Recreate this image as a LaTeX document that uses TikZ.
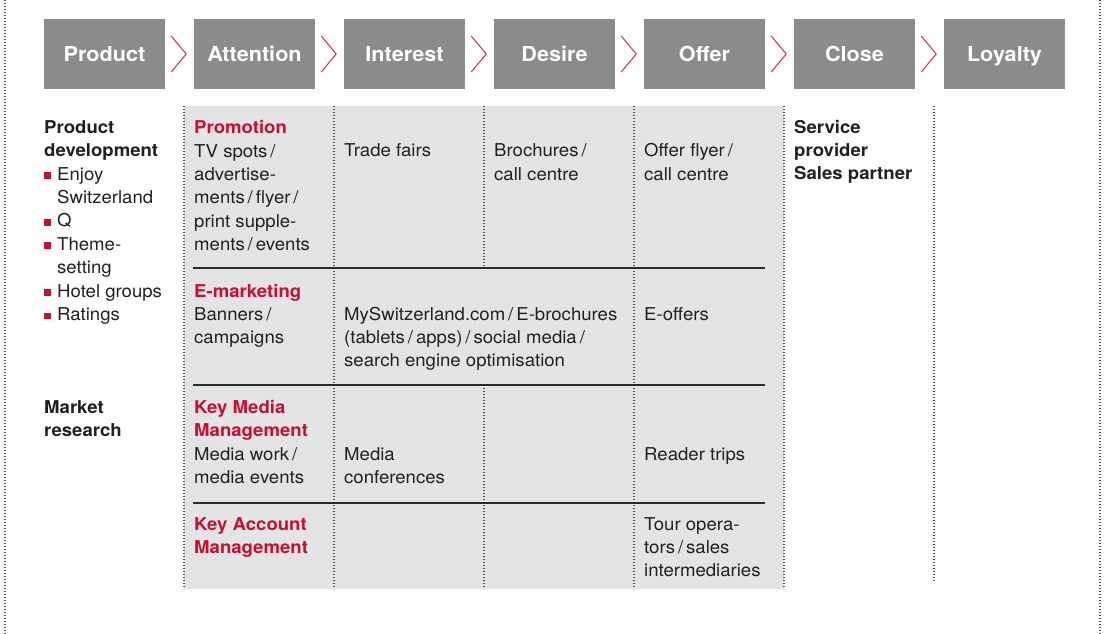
\documentclass[tikz,border=0pt]{standalone}
\usepackage{fontspec}
\setmainfont{TeX Gyre Heros}[FakeStretch=1.05]
\usetikzlibrary{calc}
\definecolor{boxgrey}{HTML}{8A8B8D}
\definecolor{panelgrey}{HTML}{E3E4E6}
\definecolor{stred}{HTML}{C8102E}
\definecolor{chevred}{HTML}{D42A45}
\definecolor{txt}{HTML}{231F20}
\definecolor{dotc}{HTML}{505050}
\definecolor{rulec}{HTML}{2A2A2A}
\newcommand{\slsh}{\,/\,}
\newcommand{\bul}{\makebox[13pt][l]{\textcolor{stred}{\rule[1.3pt]{7pt}{6.5pt}}}}
\begin{document}
\begin{tikzpicture}[x=1pt,y=-1pt,
  hdr/.style={fill=boxgrey,minimum width=121pt,minimum height=70pt,inner sep=0pt,text height=19pt,text depth=4pt,text=white,font=\fontsize{20.6}{24}\selectfont\bfseries},
  cell/.style={anchor=base west,inner sep=0pt,align=left,text=txt,font=\fontsize{17.7}{23.4}\selectfont},
  bcell/.style={cell,font=\fontsize{17.7}{23.4}\selectfont\bfseries},
  rcell/.style={cell,text=stred,font=\fontsize{17.7}{23.4}\selectfont\bfseries},
  dotline/.style={draw=dotc,line width=1.1pt,dash pattern=on 1.1pt off 1.9pt},
  hrule/.style={draw=rulec,line width=2.2pt},
  chev/.style={draw=chevred,line width=1pt}]
\useasboundingbox (0,0) rectangle (1104,634);
% page borders
\coordinate (bl1) at (5,0); \coordinate (bl2) at (5,634);
\coordinate (br1) at (1100,0); \coordinate (br2) at (1100,634);
\draw[dotline] (bl1) -- (bl2);
\draw[dotline] (br1) -- (br2);
% grey panel
\fill[panelgrey] (184,106) rectangle (784,589);
% header boxes
\node[hdr] (h1) at (104.5,54) {Product};
\node[hdr] (h2) at (254.5,54) {Attention};
\node[hdr] (h3) at (404.5,54) {Interest};
\node[hdr] (h4) at (554.5,54) {Desire};
\node[hdr] (h5) at (704.5,54) {Offer};
\node[hdr] (h6) at (854.5,54) {Close};
\node[hdr] (h7) at (1004.5,54) {Loyalty};
\foreach \a in {h1,h2,h3,h4,h5,h6}{
  \draw[chev] ($(\a.east)+(6,-18)$) -- ($(\a.east)+(21,0)$) -- ($(\a.east)+(6,18)$);
}
% vertical dotted lines
\coordinate (v0t) at (184,106); \coordinate (v0b) at (184,589);
\coordinate (v1t) at (334,106); \coordinate (v1b) at (334,589);
\coordinate (v2t) at (484,106); \coordinate (v2m) at (484,268);
\coordinate (v2n) at (484,385); \coordinate (v2b) at (484,589);
\coordinate (v3t) at (634,106); \coordinate (v3b) at (634,589);
\coordinate (v4t) at (784,106); \coordinate (v4b) at (784,589);
\coordinate (v5t) at (934,106); \coordinate (v5b) at (934,582);
\draw[dotline] (v0t) -- (v0b);
\draw[dotline] (v1t) -- (v1b);
\draw[dotline] (v2t) -- (v2m);
\draw[dotline] (v2n) -- (v2b);
\draw[dotline] (v3t) -- (v3b);
\draw[dotline] (v4t) -- (v4b);
\draw[dotline] (v5t) -- (v5b);
% horizontal rules
\coordinate (r1a) at (193,268); \coordinate (r1b) at (765,268);
\coordinate (r2a) at (193,385); \coordinate (r2b) at (765,385);
\coordinate (r3a) at (193,503); \coordinate (r3b) at (765,503);
\draw[hrule] (r1a) -- (r1b);
\draw[hrule] (r2a) -- (r2b);
\draw[hrule] (r3a) -- (r3b);
% (base anchor = baseline of the last line)
% left column
\node[bcell] (pd) at (44,156.4) {Product\\development};
\node[cell] (pl) at (44,320.4) {\bul Enjoy\\\hspace*{13pt}Switzerland\\\bul Q\\\bul Theme-\\\hspace*{13pt}setting\\\bul Hotel groups\\\bul Ratings};
\node[bcell] (mr) at (44,436.4) {Market\\research};
% Attention column
\node[rcell] (promo) at (194,133) {Promotion};
\node[cell] (promot) at (194,250.6) {TV spots\slsh\\advertise-\\ments\slsh flyer\slsh\\print supple-\\ments\slsh events};
\node[rcell] (emk) at (194,297) {E-marketing};
\node[cell] (emkt) at (194,343.4) {Banners\slsh\\campaigns};
\node[rcell] (kmm) at (194,436.4) {Key Media\\Management};
\node[cell] (kmmt) at (194,483.4) {Media work\slsh\\media events};
\node[rcell] (kam) at (194,553.4) {Key Account\\Management};
% Interest column
\node[cell] (tf) at (344,157) {Trade fairs};
\node[cell] (mys) at (344,366.8) {MySwitzerland.com\slsh E-brochures\\(tablets\slsh apps)\slsh social media\slsh\\search engine optimisation};
\node[cell] (mc) at (344,483.4) {Media\\conferences};
% Desire column
\node[cell] (br) at (494,180.4) {Brochures\slsh\\call centre};
% Offer column
\node[cell] (of) at (644,180.4) {Offer flyer\slsh\\call centre};
\node[cell] (eo) at (644,320) {E-offers};
\node[cell] (rt) at (644,460) {Reader trips};
\node[cell] (to) at (644,576.8) {Tour opera-\\tors\slsh sales\\intermediaries};
% Close column
\node[bcell] (sp) at (794,179.8) {Service\\provider\\Sales partner};
\end{tikzpicture}
\end{document}
